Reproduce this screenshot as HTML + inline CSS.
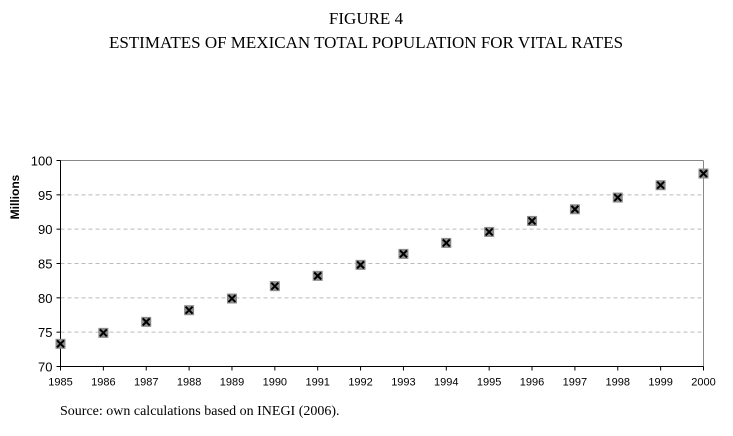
<!DOCTYPE html>
<html><head><meta charset="utf-8"><style>
body{margin:0;background:#fff;width:733px;height:431px;overflow:hidden}
</style></head><body>
<svg width="733" height="431" xmlns="http://www.w3.org/2000/svg">
<text x="366" y="24" text-anchor="middle" font-family="Liberation Serif,serif" font-size="17">FIGURE 4</text>
<text x="366" y="48" text-anchor="middle" font-family="Liberation Serif,serif" font-size="17">ESTIMATES OF MEXICAN TOTAL POPULATION FOR VITAL RATES</text>
<text transform="translate(19,197) rotate(-90)" text-anchor="middle" font-family="Liberation Sans,sans-serif" font-size="12" font-weight="bold">Millions</text>
<g id="grid"></g><g id="axes"></g><g id="marks"></g>
<text x="60" y="415" font-family="Liberation Serif,serif" font-size="14">Source: own calculations based on INEGI (2006).</text>
</svg>
<script>
const years=[1985,1986,1987,1988,1989,1990,1991,1992,1993,1994,1995,1996,1997,1998,1999,2000];
const population=[73.3,74.9,76.5,78.2,79.9,81.7,83.2,84.8,86.4,88.0,89.6,91.2,92.9,94.6,96.4,98.1];
const yTicks=[70,75,80,85,90,95,100];
const X0=60.5,X1=703.5,Y0=366.5,Y1=160.5;
const xs=y=>X0+(y-1985)/(2000-1985)*(X1-X0);
const ys=v=>Y0-(v-70)/30*(Y0-Y1);
const NS="http://www.w3.org/2000/svg";
function mk(t,a,p){const e=document.createElementNS(NS,t);for(const k in a)e.setAttribute(k,a[k]);p.appendChild(e);return e;}
const grid=document.getElementById('grid'),axes=document.getElementById('axes'),marks=document.getElementById('marks');
yTicks.forEach(v=>{const y=ys(v);
 if(v>70&&v<100){const l=mk('line',{x1:X0,x2:X1,y1:y,y2:y,stroke:'#bbb','stroke-dasharray':'4,3'},grid);
 
 }
 mk('line',{x1:X0-4,x2:X0,y1:y,y2:y,stroke:'#000'},axes);
 const t=mk('text',{x:X0-8,y:y+5,'text-anchor':'end','font-family':'Liberation Sans,sans-serif','font-size':'13'},axes);t.textContent=v;
 
 
});
mk('line',{x1:X0,x2:X1,y1:Y1,y2:Y1,stroke:'#888'},axes);
mk('line',{x1:X1,x2:X1,y1:Y1,y2:Y0,stroke:'#888'},axes);
mk('line',{x1:X0,x2:X0,y1:Y1,y2:Y0,stroke:'#000'},axes);
mk('line',{x1:X0,x2:X1,y1:Y0,y2:Y0,stroke:'#000'},axes);
years.forEach((yr,i)=>{const x=xs(yr);
 mk('line',{x1:x,x2:x,y1:Y0,y2:Y0+4,stroke:'#000'},axes);
 const t=mk('text',{x:x,y:Y0+19,'text-anchor':'middle','font-family':'Liberation Sans,sans-serif','font-size':'11'},axes);t.textContent=yr;
 
 
 const y=ys(population[i]);
 const g=mk('g',{},marks);
 
 
 mk('rect',{x:x-5,y:y-5,width:10,height:10,fill:'#8c8c8c'},g);
 mk('path',{d:`M${x-3.5},${y-3.5}L${x+3.5},${y+3.5}M${x+3.5},${y-3.5}L${x-3.5},${y+3.5}`,stroke:'#000','stroke-width':2},g);
});
</script>
</body></html>
